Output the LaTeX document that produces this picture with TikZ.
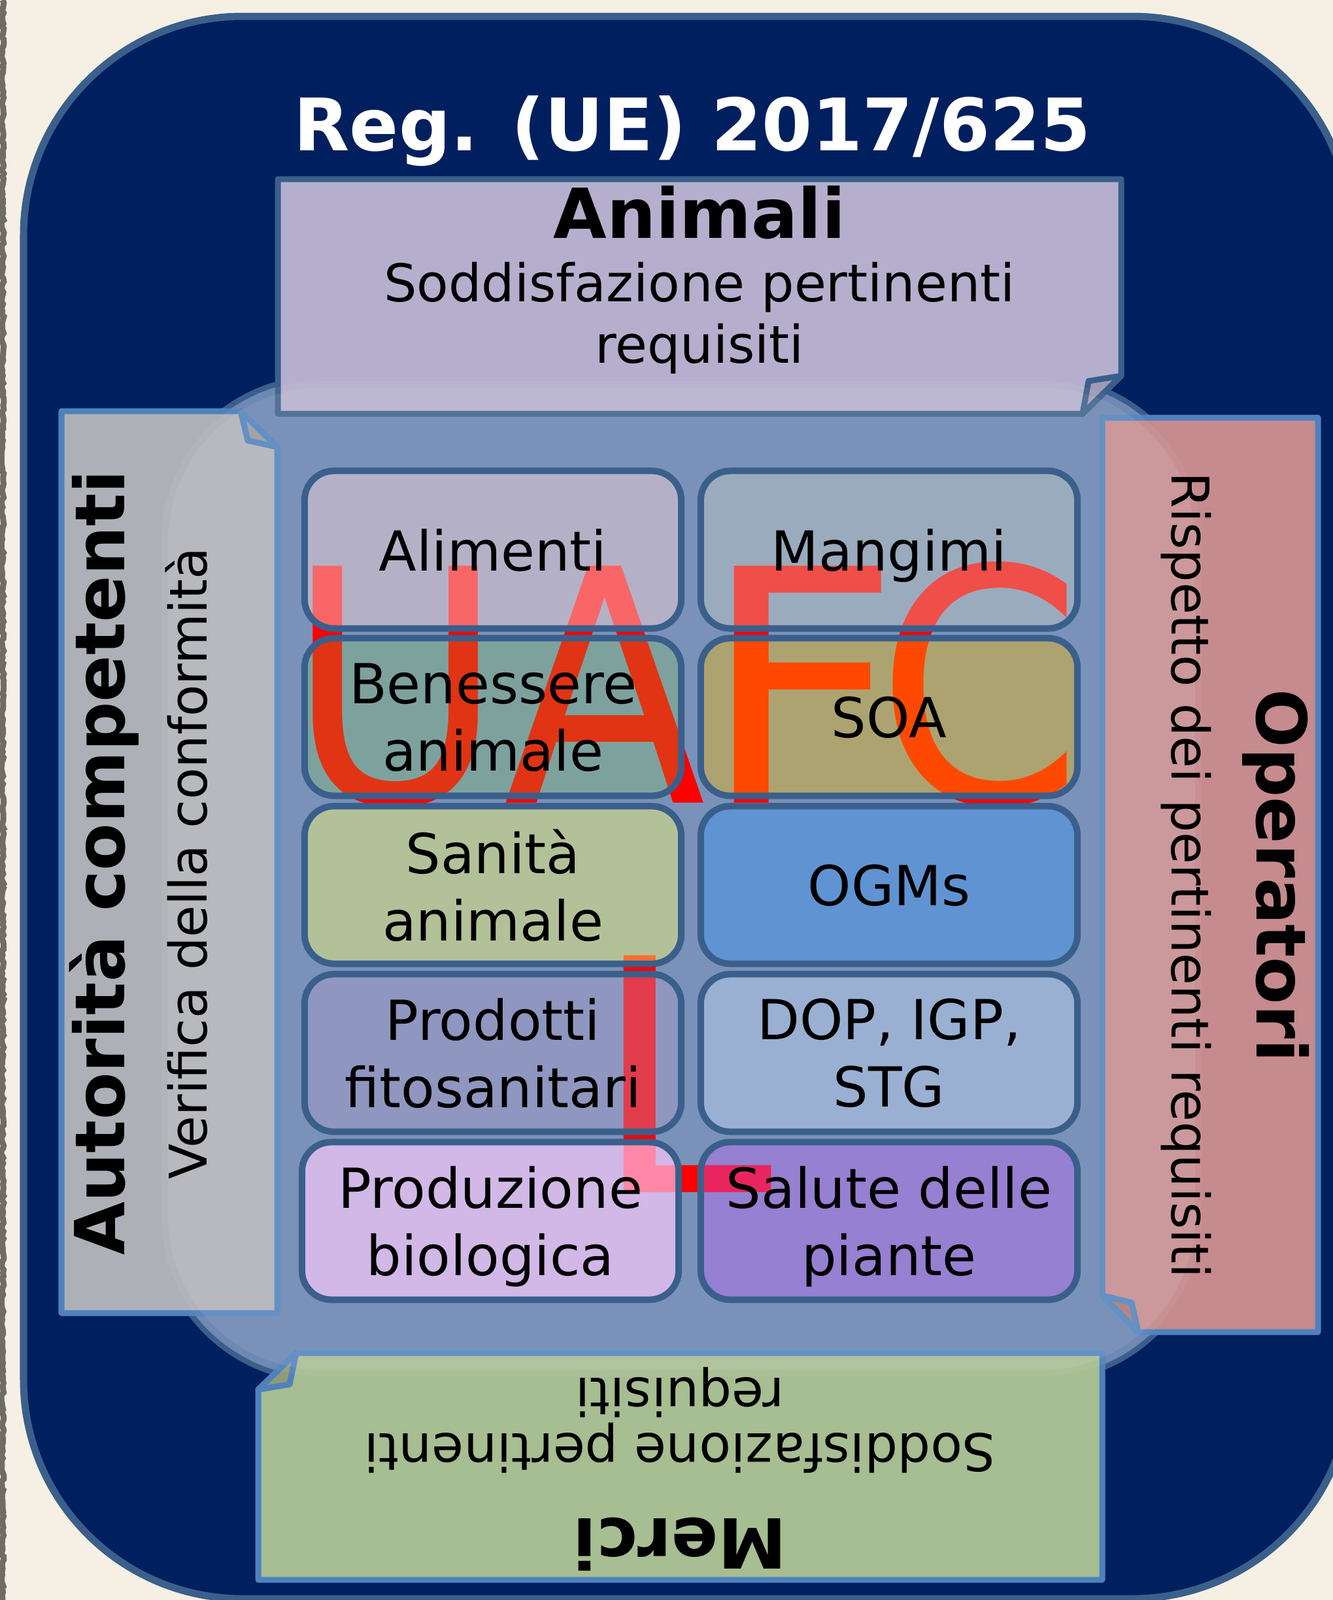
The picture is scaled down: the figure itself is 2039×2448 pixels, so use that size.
\documentclass[tikz,border=0pt]{standalone}
\usepackage{fontspec}
\setmainfont{DejaVu Sans}
\usetikzlibrary{decorations.pathmorphing}

\definecolor{paper}{RGB}{245,240,227}
\definecolor{stripgray}{RGB}{110,108,100}
\definecolor{navy}{RGB}{0,31,95}
\definecolor{edgedark}{RGB}{58,95,139}
\definecolor{edgelight}{RGB}{79,129,189}
\definecolor{centralbase}{RGB}{104,131,176}
\definecolor{animfill}{RGB}{181,175,205}
\definecolor{animflap}{RGB}{158,153,181}
\definecolor{autfill}{RGB}{174,176,183}
\definecolor{autflap}{RGB}{150,151,157}
\definecolor{opfill}{RGB}{197,139,142}
\definecolor{opflap}{RGB}{168,118,121}
\definecolor{merfill}{RGB}{167,189,146}
\definecolor{merflap}{RGB}{140,156,118}
% cell colours (used with their own opacity)
\definecolor{cAli}{RGB}{241,210,214}
\definecolor{cMan}{RGB}{214,214,200}
\definecolor{cBen}{RGB}{134,211,81}
\definecolor{cSoa}{RGB}{255,190,0}
\definecolor{cSan}{RGB}{255,255,111}
\definecolor{cOgm}{RGB}{96,147,210}
\definecolor{cPro}{RGB}{178,159,202}
\definecolor{cDop}{RGB}{154,176,210}
\definecolor{cBio}{RGB}{255,205,255}
\definecolor{cSal}{RGB}{195,99,250}

\newcommand{\titlefont}{\fontsize{31.5}{36}\selectfont\bfseries}
\newcommand{\hdfont}{\fontsize{30}{36}\selectfont\bfseries}
\newcommand{\bdfont}{\fontsize{22.6}{27}\selectfont}
\newcommand{\cellfont}{\fontsize{24}{29.3}\selectfont}
\newcommand{\bigfont}{\fontsize{141.4}{141.4}\selectfont}

\begin{document}
\begin{tikzpicture}[
    x=0.01cm, y=-0.01cm,
    sidebox/.style={line width=0.9mm, line join=round},
    cell/.style 2 args={draw=edgedark, line width=1mm, rounded corners=4.5mm,
        fill=#1, fill opacity=#2, text opacity=1, minimum width=5.76cm,
        minimum height=2.41cm, inner sep=0pt, align=center, text depth=0pt,
        font=\cellfont},
    head/.style={anchor=base, inner sep=0pt, font=\hdfont},
    body/.style={anchor=base, inner sep=0pt, font=\bdfont},
    bigletter/.style={anchor=base west, inner sep=0pt, text=red, font=\bigfont},
]
\useasboundingbox (0,0) rectangle (2039,2448);

% paper and torn edge
\fill[paper] (0,0) rectangle (2039,2448);
\draw[stripgray, line width=0.9mm, decorate,
    decoration={random steps, segment length=0.5mm, amplitude=0.2mm}] (4,0) -- (4,2448);

% frame
\draw[edgedark, fill=navy, line width=1.1mm, rounded corners=3.35cm] (36,25) rectangle (2067,2446);
\draw[edgedark, fill=centralbase, line width=0.8mm, rounded corners=2.5cm] (242,578) rectangle (1843,2111);

% === SIDE NOTES ===
% Animali
\draw[sidebox, draw=edgedark, fill=animfill] (425,274) -- (1715,274) -- (1715,575) -- (1656,633) -- (425,633) -- cycle;
\draw[sidebox, draw=edgedark, fill=animflap] (1715,575) -- (1665,583) -- (1656,633) -- cycle;
% Autorita
\draw[sidebox, draw=edgelight, fill=autfill] (94,629) -- (368,629) -- (424,684) -- (424,2009) -- (94,2009) -- cycle;
\draw[sidebox, draw=edgelight, fill=autflap] (368,629) -- (379,674) -- (424,684) -- cycle;
% Operatori
\draw[sidebox, draw=edgelight, fill=opfill] (1686,639) -- (2016,639) -- (2016,2038) -- (1741,2038) -- (1686,1982) -- cycle;
\draw[sidebox, draw=edgelight, fill=opflap] (1686,1982) -- (1731,1993) -- (1741,2038) -- cycle;
% Merci
\draw[sidebox, draw=edgelight, fill=merfill] (453,2070) -- (1686,2070) -- (1686,2417) -- (395,2417) -- (395,2126) -- cycle;
\draw[sidebox, draw=edgelight, fill=merflap] (453,2070) -- (443,2118) -- (395,2126) -- cycle;

% glass
\fill[white, fill opacity=0.05, rounded corners=2.45cm] (247,583) rectangle (1838,2106);
\fill[white, fill opacity=0.08, rounded corners=2.35cm] (257,593) rectangle (1828,2096);

% side texts
\node[head] (animH) at (1070,364) {Animali};
\node[body] (animA) at (1070,461) {Soddisfazione pertinenti};
\node[body] (animB) at (1070,555) {requisiti};
\node[head, rotate=90] (autH) at (190,1320) {Autorità competenti};
\node[body, rotate=90] (autA) at (316,1321) {Verifica della conformità};
\node[head, rotate=-90] (opH) at (1922,1340) {Operatori};
\node[body, rotate=-90] (opA) at (1792,1339) {Rispetto dei pertinenti requisiti};
\node[head, rotate=180] (merH) at (1040,2323) {Merci};
\node[body, rotate=180] (merA) at (1040,2193) {Soddisfazione pertinenti};
\node[body, rotate=180] (merB) at (1040,2108) {requisiti};

% UAFC / L
\node[bigletter] (uafc) at (439,1228)
    {\scalebox{0.91}[1]{UA}\kern-2.85pt\scalebox{1.08}[1]{F}\kern-11pt\scalebox{0.91}[1]{C}};
\node[bigletter] (ell) at (905,1824) {L};

% === CELLS ===
\node[cell={cAli}{0.49}] (ali) at (754,841) {Alimenti};
\node[cell={cMan}{0.37}] (man) at (1360,841) {Mangimi};
\node[cell={cBen}{0.25}] (ben) at (754,1097) {Benessere\\animale};
\node[cell={cSoa}{0.39}] (soa) at (1360,1097) {SOA};
\node[cell={cSan}{0.43}] (san) at (754,1354) {Sanità\\animale};
\node[cell={cOgm}{1}] (ogm) at (1360,1354) {OGMs};
\node[cell={cPro}{0.38}] (pro) at (754,1611) {Prodotti\\fitosanitari};
\node[cell={cDop}{1}] (dop) at (1360,1611) {DOP, IGP,\\STG};
\node[cell={cBio}{0.66}] (bio) at (750,1868) {Produzione\\biologica};
\node[cell={cSal}{0.38}] (sal) at (1360,1868) {Salute delle\\piante};

% title
\node[anchor=base, inner sep=0pt, text=white, font=\titlefont] (title) at (1059,230) {Reg. (UE) 2017/625};

\end{tikzpicture}
\end{document}
